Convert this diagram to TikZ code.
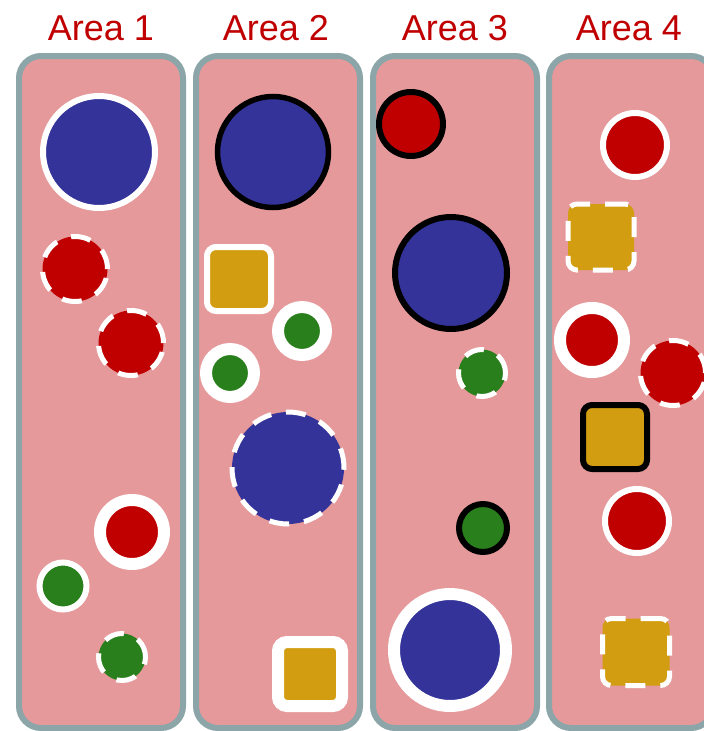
\documentclass[tikz,border=0pt]{standalone}
\usepackage{fontspec}
\setmainfont{Liberation Sans}
\definecolor{panelfill}{HTML}{E6999B}
\definecolor{panelline}{HTML}{8CA5A8}
\definecolor{cblue}{HTML}{333399}
\definecolor{cred}{HTML}{C00000}
\definecolor{cgreen}{HTML}{287F1B}
\definecolor{cgold}{HTML}{D29D10}
\tikzset{
  panel/.style={draw=panelline, fill=panelfill, line width=6pt, rounded corners=22pt, minimum width=164pt, minimum height=672pt, inner sep=0pt},
  areatitle/.style={text=cred, font=\fontsize{36}{40}\selectfont, anchor=base, inner sep=0pt},
  dot/.style={circle, inner sep=0pt, minimum size=#1},
  sq/.style={rectangle, inner sep=0pt, rounded corners=9pt, minimum size=#1},
  wthin/.style={draw=white, line width=6pt},
  wthick/.style={draw=white, line width=12pt},
  wdash/.style={draw=white, line width=5pt, dash pattern=on 20pt off 15pt},
  bline/.style={draw=black, line width=6pt},
}
\begin{document}
\begin{tikzpicture}[x=1pt,y=-1pt]
\useasboundingbox (0,0) rectangle (704,731);
% panels
\node[panel] (p1) at (101,392) {};
\node[panel] (p2) at (278,392) {};
\node[panel] (p3) at (455,392) {};
\node[panel] (p4) at (631,392) {};
% titles
\node[areatitle] (t1) at (101,40) {Area 1};
\node[areatitle] (t2) at (276,40) {Area 2};
\node[areatitle] (t3) at (455,40) {Area 3};
\node[areatitle] (t4) at (629,40) {Area 4};
% Area 1
\node[dot=112pt, fill=cblue, wthin] (a1) at (99,152) {};
\node[dot=65pt, fill=cred, wdash] (b1) at (75,269) {};
\node[dot=65pt, fill=cred, wdash] (c1) at (131,343) {};
\node[dot=64pt, fill=cred, wthick] (d1) at (132,532) {};
\node[dot=47pt, fill=cgreen, wthin] (e1) at (63,586) {};
\node[dot=47pt, fill=cgreen, wdash] (f1) at (122,657) {};
% Area 2
\node[dot=111pt, fill=cblue, bline, line width=5.5pt] (a2) at (273,152) {};
\node[sq=64pt, fill=cgold, wthin] (b2) at (239,279) {};
\node[dot=48pt, fill=cgreen, wthick] (c2) at (302,331) {};
\node[dot=48pt, fill=cgreen, wthick] (d2) at (230,373) {};
\node[dot=112pt, fill=cblue, wdash] (e2) at (288,468) {};
\node[sq=64pt, fill=cgold, wthick] (f2) at (310,674) {};
% Area 3
\node[dot=64pt, fill=cred, bline] (a3) at (411,124) {};
\node[dot=112pt, fill=cblue, bline] (b3) at (451,273) {};
\node[dot=47pt, fill=cgreen, wdash] (c3) at (482,373) {};
\node[dot=48pt, fill=cgreen, bline] (d3) at (483,528) {};
\node[dot=112pt, fill=cblue, wthick] (e3) at (450,650) {};
% Area 4
\node[dot=64pt, fill=cred, wthin] (a4) at (635,145) {};
\node[sq=66pt, fill=cgold, wdash] (b4) at (601,237) {};
\node[dot=64pt, fill=cred, wthick] (c4) at (592,340) {};
\node[dot=65pt, fill=cred, wdash] (d4) at (673,373) {};
\node[sq=64pt, fill=cgold, bline] (e4) at (615,437) {};
\node[dot=64pt, fill=cred, wthin] (f4) at (637,521) {};
\node[sq=67pt, fill=cgold, wdash] (g4) at (636,652) {};
\end{tikzpicture}
\end{document}
